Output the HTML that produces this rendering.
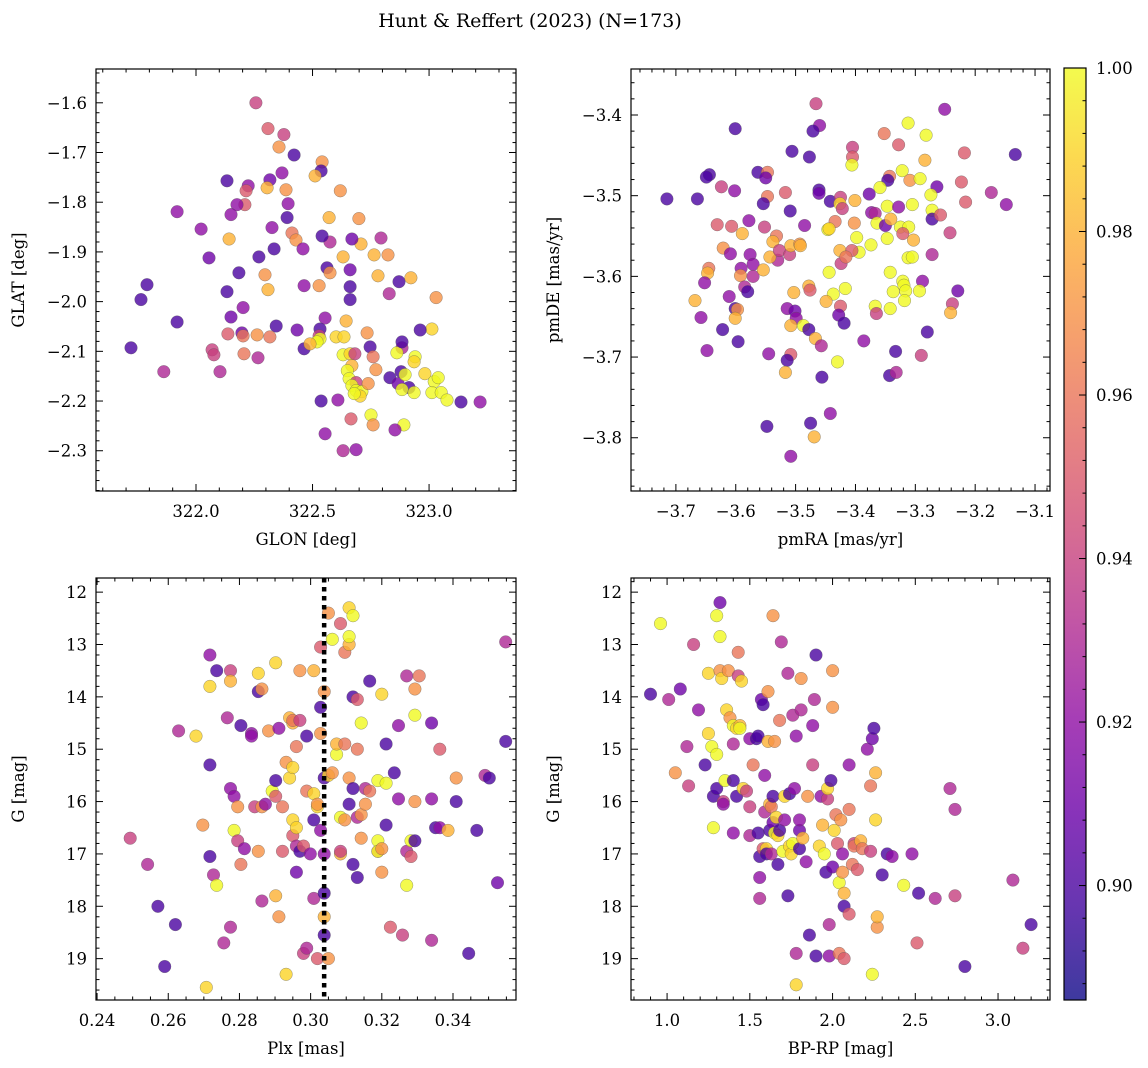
<!DOCTYPE html>
<html><head><meta charset="utf-8">
<style>
html,body{margin:0;padding:0;background:#fff;}
svg{display:block;font-family:"DejaVu Serif","Liberation Serif",serif;}
</style></head>
<body>
<svg id="fig" width="1148" height="1068" viewBox="0 0 1148 1068">
<text x="530" y="27" text-anchor="middle" font-size="19">Hunt &amp; Reffert (2023) (N=173)</text>
</svg>
<script>
// ---- Panel 1: GLON vs GLAT ----
const glon=[322.257,322.309,322.377,322.356,322.421,322.541,322.537,322.511,322.619,322.369,322.317,322.305,322.224,322.133,322.215,322.210,322.176,322.150,321.919,322.142,322.386,322.395,322.391,322.412,322.429,322.459,322.326,322.335,322.270,322.056,322.022,322.571,322.575,322.541,322.699,322.708,322.631,322.669,322.794,322.764,322.824,322.562,322.575,322.528,322.464,322.661,322.661,322.661,322.781,322.871,322.829,322.922,322.644,322.554,322.532,322.434,322.344,322.296,322.309,322.184,322.202,322.197,322.202,322.262,322.317,322.266,322.133,322.150,322.069,322.077,322.103,322.206,322.464,322.528,322.601,322.635,322.532,322.519,322.489,322.631,322.661,322.682,322.734,322.747,322.760,322.884,322.862,322.884,322.880,322.940,322.936,323.012,323.030,322.962,322.669,322.649,322.657,322.687,322.669,322.687,322.712,322.704,322.679,322.739,322.772,322.832,322.867,322.914,322.884,322.936,322.897,322.982,323.022,323.012,323.052,323.039,323.077,323.137,323.219,322.751,322.760,322.892,322.854,322.665,322.537,322.609,322.554,322.631,322.687,321.764,321.790,321.919,321.862,321.721,322.137];
const glat=[-1.600,-1.652,-1.664,-1.689,-1.705,-1.719,-1.737,-1.747,-1.777,-1.741,-1.755,-1.771,-1.767,-1.757,-1.777,-1.805,-1.805,-1.825,-1.819,-1.874,-1.775,-1.803,-1.831,-1.862,-1.876,-1.894,-1.851,-1.894,-1.910,-1.912,-1.854,-1.831,-1.880,-1.868,-1.833,-1.884,-1.910,-1.874,-1.872,-1.906,-1.906,-1.932,-1.942,-1.968,-1.968,-1.936,-1.996,-1.970,-1.948,-1.960,-1.984,-1.952,-2.039,-2.033,-2.055,-2.057,-2.049,-1.946,-1.976,-1.942,-2.012,-2.063,-2.069,-2.067,-2.071,-2.113,-1.980,-2.031,-2.097,-2.107,-2.141,-2.105,-2.095,-2.069,-2.071,-2.071,-2.075,-2.081,-2.085,-2.107,-2.105,-2.105,-2.063,-2.091,-2.111,-2.093,-2.103,-2.081,-2.141,-2.111,-2.121,-2.055,-1.992,-2.057,-2.129,-2.139,-2.155,-2.163,-2.169,-2.179,-2.181,-2.190,-2.185,-2.165,-2.137,-2.153,-2.165,-2.173,-2.177,-2.183,-2.147,-2.145,-2.161,-2.183,-2.183,-2.153,-2.198,-2.202,-2.202,-2.228,-2.248,-2.248,-2.258,-2.236,-2.200,-2.198,-2.266,-2.300,-2.298,-1.996,-1.966,-2.041,-2.141,-2.093,-2.065];
const probA=[.94,.95,.94,.97,.90,.97,.90,.98,.97,.92,.91,.98,.92,.90,.95,.95,.92,.92,.92,.98,.97,.92,.90,.96,.97,.92,.92,.90,.90,.91,.92,.98,.93,.90,.97,.98,.98,.91,.93,.98,.97,.90,.97,.97,.92,.91,.90,.90,.98,.90,.93,.98,.98,.92,.90,.91,.90,.97,.98,.90,.92,.91,.96,.97,.96,.93,.90,.91,.94,.94,.93,.96,.90,.94,.99,.99,1.0,1.0,.98,1.0,.99,.94,.97,.90,.96,.93,1.0,.90,.90,1.0,.99,.99,.97,.90,.98,1.0,1.0,.94,1.0,1.0,1.0,.99,1.0,.97,.97,.90,.91,.90,1.0,1.0,1.0,.99,1.0,1.0,1.0,1.0,1.0,.90,.92,1.0,.97,1.0,.92,.95,.90,.92,.92,.93,.92,.90,.90,.90,.93,.90,.95];

// ---- Panel 2: pmRA vs pmDE ----
const pmB=[[-3.466,-3.386,.94],[-3.251,-3.393,.92],[-3.460,-3.413,.92],[-3.471,-3.420,.90],[-3.601,-3.417,.90],[-3.312,-3.410,1.0],[-3.282,-3.425,1.0],[-3.352,-3.423,.96],[-3.328,-3.437,.95],[-3.218,-3.447,.95],[-3.133,-3.449,.90],[-3.506,-3.445,.90],[-3.477,-3.452,.90],[-3.405,-3.440,.94],[-3.405,-3.452,.95],[-3.406,-3.462,1.0],[-3.284,-3.456,.98],[-3.644,-3.474,.90],[-3.649,-3.477,.90],[-3.563,-3.471,.90],[-3.547,-3.471,.96],[-3.550,-3.478,.91],[-3.322,-3.469,1.0],[-3.343,-3.476,.96],[-3.346,-3.481,.90],[-3.309,-3.481,.97],[-3.292,-3.479,1.0],[-3.359,-3.490,1.0],[-3.264,-3.489,.91],[-3.223,-3.483,.95],[-3.274,-3.499,1.0],[-3.173,-3.496,.93],[-3.148,-3.511,.92],[-3.216,-3.508,.95],[-3.715,-3.504,.90],[-3.664,-3.504,.90],[-3.624,-3.489,.94],[-3.602,-3.494,.92],[-3.547,-3.501,.96],[-3.554,-3.510,.90],[-3.517,-3.496,.95],[-3.509,-3.519,.90],[-3.461,-3.493,.90],[-3.461,-3.497,.91],[-3.442,-3.507,.90],[-3.425,-3.502,.94],[-3.426,-3.510,.99],[-3.422,-3.516,.94],[-3.401,-3.506,.98],[-3.377,-3.498,.91],[-3.347,-3.513,1.0],[-3.328,-3.514,.92],[-3.305,-3.511,1.0],[-3.272,-3.518,1.0],[-3.272,-3.529,.90],[-3.258,-3.524,.95],[-3.242,-3.546,.94],[-3.373,-3.521,.92],[-3.367,-3.522,.93],[-3.364,-3.534,1.0],[-3.350,-3.537,.91],[-3.341,-3.529,.98],[-3.325,-3.539,1.0],[-3.311,-3.539,1.0],[-3.321,-3.547,.95],[-3.303,-3.555,.98],[-3.347,-3.553,1.0],[-3.374,-3.561,1.0],[-3.398,-3.552,1.0],[-3.394,-3.570,1.0],[-3.402,-3.534,.97],[-3.434,-3.532,.96],[-3.446,-3.542,1.0],[-3.444,-3.541,.99],[-3.485,-3.537,.92],[-3.578,-3.531,.92],[-3.552,-3.539,.94],[-3.589,-3.547,.98],[-3.607,-3.538,.95],[-3.631,-3.536,.95],[-3.621,-3.565,.97],[-3.609,-3.572,.92],[-3.576,-3.573,.92],[-3.571,-3.585,.92],[-3.532,-3.550,.96],[-3.538,-3.557,.98],[-3.530,-3.580,.93],[-3.543,-3.576,.98],[-3.527,-3.568,.94],[-3.510,-3.573,.94],[-3.508,-3.562,.98],[-3.493,-3.560,.97],[-3.492,-3.562,.98],[-3.426,-3.568,.98],[-3.406,-3.568,.95],[-3.424,-3.584,.94],[-3.416,-3.576,.96],[-3.312,-3.577,1.0],[-3.305,-3.576,1.0],[-3.272,-3.573,.93],[-3.645,-3.590,.96],[-3.647,-3.596,.98],[-3.652,-3.608,.92],[-3.591,-3.590,.92],[-3.592,-3.599,.97],[-3.571,-3.600,.93],[-3.585,-3.613,.93],[-3.580,-3.619,.90],[-3.554,-3.592,.98],[-3.444,-3.595,1.0],[-3.342,-3.595,1.0],[-3.288,-3.606,.92],[-3.229,-3.618,.91],[-3.321,-3.606,1.0],[-3.319,-3.611,1.0],[-3.316,-3.618,1.0],[-3.293,-3.618,1.0],[-3.337,-3.619,1.0],[-3.318,-3.630,1.0],[-3.342,-3.640,1.0],[-3.367,-3.637,1.0],[-3.365,-3.646,.94],[-3.238,-3.634,.94],[-3.241,-3.645,.98],[-3.503,-3.620,.98],[-3.478,-3.612,.98],[-3.476,-3.617,.95],[-3.437,-3.622,1.0],[-3.417,-3.615,1.0],[-3.449,-3.631,.98],[-3.425,-3.637,.95],[-3.428,-3.648,.91],[-3.419,-3.658,.90],[-3.668,-3.630,.98],[-3.611,-3.625,.92],[-3.601,-3.640,.90],[-3.597,-3.641,.97],[-3.601,-3.652,.98],[-3.658,-3.651,.92],[-3.622,-3.666,.90],[-3.596,-3.681,.90],[-3.648,-3.692,.92],[-3.514,-3.640,.92],[-3.501,-3.643,.91],[-3.499,-3.652,.92],[-3.508,-3.661,.98],[-3.487,-3.661,1.0],[-3.478,-3.666,.90],[-3.467,-3.677,.98],[-3.457,-3.686,.93],[-3.386,-3.680,.92],[-3.333,-3.693,.90],[-3.290,-3.698,.94],[-3.280,-3.669,.90],[-3.545,-3.696,.92],[-3.508,-3.697,.95],[-3.514,-3.704,.90],[-3.517,-3.719,.98],[-3.456,-3.725,.90],[-3.430,-3.706,1.0],[-3.343,-3.723,.90],[-3.332,-3.719,.93],[-3.442,-3.770,.92],[-3.475,-3.782,.90],[-3.548,-3.786,.90],[-3.469,-3.799,.98],[-3.508,-3.823,.92]];
const pmra=pmB.map(d=>d[0]);
const pmde=pmB.map(d=>d[1]);
const probB=pmB.map(d=>d[2]);

// ---- Panel 3: Plx vs G ----
const plxC=[[0.2493,16.7,.94],[0.2542,17.2,.93],[0.2571,18.0,.90],[0.2590,19.15,.90],[0.2620,18.35,.90],[0.2629,14.65,.93],[0.2678,14.75,.99],[0.2697,16.45,.97],[0.2707,19.55,.99],[0.2717,13.2,.92],[0.2717,13.8,.99],[0.2717,15.3,.90],[0.2717,17.05,.90],[0.2727,17.4,.93],[0.2736,17.6,1.0],[0.2736,13.5,.90],[0.2756,18.7,.93],[0.2766,14.4,.93],[0.2775,13.5,.94],[0.2775,13.7,.98],[0.2775,15.75,.92],[0.2785,15.9,.92],[0.2785,16.55,1.0],[0.2795,16.1,.97],[0.2795,16.75,.94],[0.2775,18.4,.93],[0.2804,14.55,.90],[0.2804,17.2,.96],[0.2814,16.9,.92],[0.2834,14.7,.92],[0.2834,14.75,.92],[0.2843,16.1,.94],[0.2853,13.9,.90],[0.2853,13.55,.99],[0.2863,13.85,.97],[0.2863,16.1,.97],[0.2853,16.95,.97],[0.2863,17.9,.93],[0.2873,16.05,.92],[0.2882,14.65,.97],[0.2892,15.8,1.0],[0.2902,15.9,.95],[0.2902,15.6,.90],[0.2902,13.35,.99],[0.2902,17.8,.98],[0.2911,18.2,.97],[0.2911,14.6,.92],[0.2921,16.1,.96],[0.2921,16.95,.95],[0.2931,15.25,.97],[0.2931,19.3,.99],[0.2941,15.55,.99],[0.2941,14.4,.98],[0.2950,14.5,.98],[0.2950,14.45,.96],[0.2950,15.35,.99],[0.2950,16.35,.99],[0.2950,16.65,.95],[0.2960,16.85,.93],[0.2960,16.5,.99],[0.2960,17.35,.91],[0.2960,14.95,.96],[0.2970,16.95,.90],[0.2970,14.45,.94],[0.2970,13.5,.97],[0.2980,18.9,.94],[0.2980,16.85,.95],[0.2989,15.8,.96],[0.2989,18.8,.93],[0.2989,14.75,.90],[0.2999,17.0,.92],[0.3009,16.35,.90],[0.3009,13.5,.98],[0.3009,17.85,.93],[0.3009,15.85,.99],[0.3019,16.1,.99],[0.3019,16.05,.97],[0.3019,19.0,.95],[0.3028,13.05,.95],[0.3028,14.2,.90],[0.3038,13.9,.97],[0.3028,14.7,.97],[0.3038,15.55,.90],[0.3038,17.0,.92],[0.3038,18.2,.98],[0.3038,17.75,.90],[0.3038,18.55,.90],[0.3050,19.0,.97],[0.3050,15.5,.99],[0.3061,15.45,.97],[0.3050,12.4,.97],[0.3061,12.9,1.0],[0.3073,15.1,1.0],[0.3073,14.9,.98],[0.3084,17.0,.98],[0.3084,16.3,1.0],[0.3084,16.95,.94],[0.3084,12.6,.95],[0.3096,16.35,.97],[0.3096,14.9,.96],[0.3096,13.15,.96],[0.3108,13.0,.98],[0.3108,12.3,.99],[0.3108,12.85,1.0],[0.3108,15.55,.97],[0.3108,16.05,.90],[0.3119,12.45,1.0],[0.3119,14.0,.90],[0.3119,15.75,.90],[0.3119,17.2,.90],[0.3131,14.05,.95],[0.3131,15.0,.96],[0.3131,16.3,.93],[0.3131,17.45,.90],[0.3142,14.5,1.0],[0.3142,16.25,.97],[0.3142,16.7,.97],[0.3154,16.05,.97],[0.3154,15.75,.93],[0.3166,15.8,.96],[0.3166,13.7,.90],[0.3189,15.6,1.0],[0.3189,16.95,.95],[0.3189,16.75,1.0],[0.3189,16.95,1.0],[0.3200,16.9,.97],[0.3200,17.35,.97],[0.3200,13.95,.99],[0.3212,15.65,1.0],[0.3212,14.9,.90],[0.3212,16.45,.90],[0.3224,18.4,.95],[0.3235,15.45,.90],[0.3247,15.95,.92],[0.3247,14.55,.92],[0.3258,18.55,.94],[0.3270,13.6,.93],[0.3270,16.95,.93],[0.3270,17.6,1.0],[0.3282,16.75,1.0],[0.3282,17.05,.95],[0.3293,13.85,.97],[0.3293,14.35,1.0],[0.3293,16.0,.97],[0.3293,16.75,.90],[0.3305,13.6,.96],[0.3340,14.5,.91],[0.3340,15.95,.92],[0.3340,18.65,.93],[0.3351,16.5,.90],[0.3363,16.5,.92],[0.3363,15.0,.95],[0.3386,16.55,.98],[0.3409,16.0,.90],[0.3409,15.55,.97],[0.3444,18.9,.90],[0.3467,16.55,.90],[0.3490,15.5,.93],[0.3502,15.55,.90],[0.3525,17.55,.91],[0.3548,12.95,.93],[0.3548,14.85,.90],[0.3028,16.55,.92]];
const plx=plxC.map(d=>d[0]);
const gmagC=plxC.map(d=>d[1]);
const probC=plxC.map(d=>d[2]);
const plxLine=[0.3038];

// ---- Panel 4: BP-RP vs G ----
const cmdD=[[0.90,13.95,.90],[0.96,12.6,1.0],[1.01,14.05,.93],[1.05,15.45,.97],[1.08,13.85,.91],[1.12,14.95,.93],[1.13,15.7,.94],[1.16,13.0,.94],[1.19,14.25,.92],[1.23,15.3,.90],[1.25,14.7,.99],[1.25,13.55,.99],[1.27,14.95,1.0],[1.28,15.9,.90],[1.28,16.5,1.0],[1.30,15.1,1.0],[1.30,15.75,.90],[1.30,12.45,1.0],[1.32,12.2,.91],[1.32,12.85,1.0],[1.32,13.5,.97],[1.33,13.65,.99],[1.34,16.0,.94],[1.34,16.05,.92],[1.35,15.6,1.0],[1.36,14.25,.99],[1.37,13.5,.97],[1.38,14.4,.97],[1.40,14.55,1.0],[1.40,14.9,.93],[1.40,16.6,.92],[1.40,15.6,.90],[1.42,14.6,.99],[1.42,15.9,.90],[1.43,13.6,.94],[1.43,13.15,.96],[1.44,14.55,.98],[1.44,14.6,1.0],[1.45,13.7,.99],[1.46,15.75,.99],[1.48,15.8,.94],[1.50,14.8,.92],[1.50,16.1,.94],[1.50,16.65,.93],[1.52,15.3,.96],[1.54,14.8,.90],[1.55,14.75,.90],[1.55,16.6,.90],[1.56,17.05,.90],[1.56,17.85,.93],[1.56,17.45,.92],[1.57,14.05,.91],[1.58,14.15,.90],[1.58,16.9,.95],[1.59,16.2,.93],[1.59,15.5,.92],[1.60,16.9,.99],[1.60,17.0,.90],[1.61,13.9,.97],[1.61,14.85,.98],[1.62,16.05,.98],[1.62,16.55,.90],[1.63,16.1,.96],[1.63,17.0,.93],[1.64,12.45,.97],[1.64,15.9,.90],[1.64,16.4,.91],[1.65,14.85,.97],[1.65,16.6,1.0],[1.66,16.3,.99],[1.67,16.65,.99],[1.67,17.2,.90],[1.68,14.45,.96],[1.68,16.55,.90],[1.69,12.95,.93],[1.70,16.95,1.0],[1.71,16.35,.92],[1.71,15.9,.99],[1.73,17.8,.90],[1.73,13.55,.93],[1.74,16.85,.99],[1.74,15.85,.90],[1.75,17.0,.99],[1.76,16.8,1.0],[1.76,14.35,.93],[1.77,15.75,.92],[1.78,19.5,.99],[1.78,18.9,.93],[1.78,14.75,.92],[1.80,16.9,.90],[1.80,16.55,.91],[1.80,16.35,.92],[1.81,13.65,.97],[1.81,14.25,.93],[1.82,16.7,.98],[1.84,17.15,.92],[1.85,15.9,.97],[1.86,18.55,.90],[1.88,14.55,.92],[1.88,15.3,.94],[1.89,14.05,.93],[1.90,13.2,.90],[1.90,18.95,.90],[1.92,16.85,.99],[1.93,15.9,.92],[1.94,16.45,.98],[1.95,17.0,1.0],[1.96,17.35,.90],[1.97,15.95,.94],[1.97,15.75,.99],[1.98,18.95,.92],[1.98,18.35,.93],[1.99,15.6,.90],[2.00,13.5,.97],[2.00,14.2,.97],[2.00,17.25,.91],[2.01,16.55,.99],[2.02,16.25,.96],[2.03,16.8,.95],[2.04,18.9,.96],[2.04,17.55,1.0],[2.05,16.35,.97],[2.06,17.0,.92],[2.06,17.35,.97],[2.07,17.75,.98],[2.07,18.0,.90],[2.07,19.0,.95],[2.10,16.15,.96],[2.10,18.15,.95],[2.10,15.3,.92],[2.12,17.2,.96],[2.13,16.8,.94],[2.13,16.85,.96],[2.15,17.3,.95],[2.17,16.75,.98],[2.18,16.9,.96],[2.21,15.0,.92],[2.23,16.95,.94],[2.23,15.7,.96],[2.24,19.3,1.0],[2.24,14.8,.91],[2.25,14.6,.90],[2.26,15.45,.98],[2.26,16.35,.99],[2.27,18.4,.97],[2.27,18.2,.98],[2.30,17.4,.90],[2.33,17.0,.90],[2.36,17.05,.92],[2.43,17.6,1.0],[2.48,17.0,.92],[2.51,18.7,.95],[2.52,17.75,.90],[2.62,17.85,.93],[2.71,15.75,.93],[2.74,16.15,.93],[2.74,17.8,.94],[2.80,19.15,.90],[3.09,17.5,.93],[3.15,18.8,.94],[3.20,18.35,.90]];
const bprp=cmdD.map(d=>d[0]);
const gmagD=cmdD.map(d=>d[1]);
const probD=cmdD.map(d=>d[2]);

const cbTicks=[0.90,0.92,0.94,0.96,0.98,1.00];
const PMIN=0.886, PMAX=1.0;

const NS='http://www.w3.org/2000/svg';
const svg=document.getElementById('fig');
function mk(tag,attrs,parent){const e=document.createElementNS(NS,tag);for(const k in attrs)e.setAttribute(k,attrs[k]);(parent||svg).appendChild(e);return e;}

const stops=['#0d0887','#41049d','#6a00a8','#8f0da4','#b12a90','#cc4778','#e16462','#f2844b','#fca636','#fcce25','#f0f921'];
function hex2(h){return [1,3,5].map(i=>parseInt(h.substr(i,2),16));}
function plasma(t){t=Math.max(0,Math.min(1,t));const f=t*10,i=Math.min(9,Math.floor(f)),u=f-i;const a=hex2(stops[i]),b=hex2(stops[i+1]);return 'rgb('+a.map((v,k)=>Math.round(v+(b[k]-v)*u)).join(',')+')';}
function pcol(p){return plasma((p-PMIN)/(PMAX-PMIN));}

function fmt(v,d){let s=v.toFixed(d);return s.replace('-','\u2212');}

function panel(o){
  const g=mk('g',{});
  
  
  const sx=v=>o.x0+(v-o.xmin)/(o.xmax-o.xmin)*(o.x1-o.x0);
  const sy=o.yinv? (v=>o.y0+(v-o.ymin)/(o.ymax-o.ymin)*(o.y1-o.y0)) : (v=>o.y1-(v-o.ymin)/(o.ymax-o.ymin)*(o.y1-o.y0));
  const clipId='c'+o.name;
  const cp=mk('clipPath',{id:clipId},g);mk('rect',{x:o.x0,y:o.y0,width:o.x1-o.x0,height:o.y1-o.y0},cp);
  const pts=mk('g',{'clip-path':'url(#'+clipId+')'},g);
  for(let i=0;i<o.xs.length;i++){
    const c=mk('circle',{cx:sx(o.xs[i]).toFixed(1),cy:sy(o.ys[i]).toFixed(1),r:6.3,fill:pcol(o.ps[i]),'fill-opacity':0.8,stroke:'#555','stroke-opacity':0.6,'stroke-width':0.5},pts);
    
    
  }
  if(o.vline){for(const v of o.vline){const l=mk('line',{x1:sx(v),x2:sx(v),y1:o.y0,y2:o.y1,stroke:'#000','stroke-width':4.5,'stroke-dasharray':'4.5,4.5'},pts);
    
    }}
  const tk=mk('g',{stroke:'#000','stroke-width':1},g);
  const eps=1e-9;
  for(let v=Math.ceil(o.xmin/o.xminor-eps)*o.xminor; v<=o.xmax+eps; v+=o.xminor){
    const x=sx(v);const isMaj=Math.abs(v/o.xmajor-Math.round(v/o.xmajor))<1e-4;const L=isMaj?7:3.5;
    mk('line',{x1:x,x2:x,y1:o.y1,y2:o.y1-L},tk);mk('line',{x1:x,x2:x,y1:o.y0,y2:o.y0+L},tk);
    if(isMaj){const t=mk('text',{x:x,y:o.y1+26,'text-anchor':'middle','font-size':16.5,stroke:'none',fill:'#000'},g);t.textContent=fmt(v,o.xd);
      }
  }
  for(let v=Math.ceil(o.ymin/o.yminor-eps)*o.yminor; v<=o.ymax+eps; v+=o.yminor){
    const y=sy(v);const isMaj=Math.abs(v/o.ymajor-Math.round(v/o.ymajor))<1e-4;const L=isMaj?7:3.5;
    mk('line',{x1:o.x0,x2:o.x0+L,y1:y,y2:y},tk);mk('line',{x1:o.x1,x2:o.x1-L,y1:y,y2:y},tk);
    if(isMaj){const t=mk('text',{x:o.x0-9,y:y+6,'text-anchor':'end','font-size':16.5,stroke:'none',fill:'#000'},g);t.textContent=fmt(v,o.yd);
      }
  }
  const fr=mk('rect',{x:o.x0,y:o.y0,width:o.x1-o.x0,height:o.y1-o.y0,fill:'none',stroke:'#000','stroke-width':1.2},g);
  
  const xl=mk('text',{x:(o.x0+o.x1)/2,y:o.y1+54,'text-anchor':'middle','font-size':16.5},g);xl.textContent=o.xlabel;
  
  const yx=o.ylx, yy=(o.y0+o.y1)/2;
  const yl=mk('text',{x:yx,y:yy,'text-anchor':'middle','font-size':16.5,transform:'rotate(-90 '+yx+' '+yy+')'},g);yl.textContent=o.ylabel;
  
}

panel({name:'glon-glat-panel',x0:96,x1:516,y0:69,y1:491,xmin:321.571,xmax:323.373,ymin:-2.381,ymax:-1.532,xmajor:0.5,xminor:0.1,ymajor:0.1,yminor:0.02,xd:1,yd:1,xs:glon,ys:glat,ps:probA,xlabel:'GLON [deg]',ylabel:'GLAT [deg]',ylx:24});
panel({name:'pm-panel',x0:631,x1:1050,y0:69,y1:491,xmin:-3.775,xmax:-3.075,ymin:-3.866,ymax:-3.343,xmajor:0.1,xminor:0.02,ymajor:0.1,yminor:0.02,xd:1,yd:1,xs:pmra,ys:pmde,ps:probB,xlabel:'pmRA [mas/yr]',ylabel:'pmDE [mas/yr]',ylx:559});
panel({name:'plx-g-panel',x0:96,x1:516,y0:578,y1:1000,xmin:0.2397,xmax:0.3577,ymin:11.73,ymax:19.79,yinv:true,xmajor:0.02,xminor:0.005,ymajor:1,yminor:0.2,xd:2,yd:0,xs:plx,ys:gmagC,ps:probC,vline:plxLine,xlabel:'Plx [mas]',ylabel:'G [mag]',ylx:24});
panel({name:'cmd-panel',x0:631,x1:1050,y0:578,y1:1000,xmin:0.782,xmax:3.314,ymin:11.73,ymax:19.79,yinv:true,xmajor:0.5,xminor:0.1,ymajor:1,yminor:0.2,xd:1,yd:0,xs:bprp,ys:gmagD,ps:probD,xlabel:'BP-RP [mag]',ylabel:'G [mag]',ylx:559});

// colorbar
const cb=mk('g',{});


const cbx0=1064,cbx1=1086,cby0=68,cby1=1000;
const grad=mk('linearGradient',{id:'cbg',x1:0,y1:1,x2:0,y2:0},mk('defs',{},cb));
for(let i=0;i<=20;i++){mk('stop',{offset:(i/20),'stop-color':plasma(i/20),'stop-opacity':0.8},grad);}
mk('rect',{x:cbx0,y:cby0,width:cbx1-cbx0,height:cby1-cby0,fill:'url(#cbg)'},cb);
const cy=v=>cby1-(v-PMIN)/(PMAX-PMIN)*(cby1-cby0);
for(let v=0.888;v<=1.0001;v+=0.004){const y=cy(v);mk('line',{x1:cbx1,x2:cbx1-3.5,y1:y,y2:y,stroke:'#000'},cb);}
for(const v of cbTicks){const y=cy(v);mk('line',{x1:cbx1,x2:cbx1-7,y1:y,y2:y,stroke:'#000'},cb);
  const t=mk('text',{x:cbx1+10,y:y+6,'font-size':16.5},cb);t.textContent=v.toFixed(2);
  }
mk('rect',{x:cbx0,y:cby0,width:cbx1-cbx0,height:cby1-cby0,fill:'none',stroke:'#000','stroke-width':1.2},cb);
</script>
</body></html>
